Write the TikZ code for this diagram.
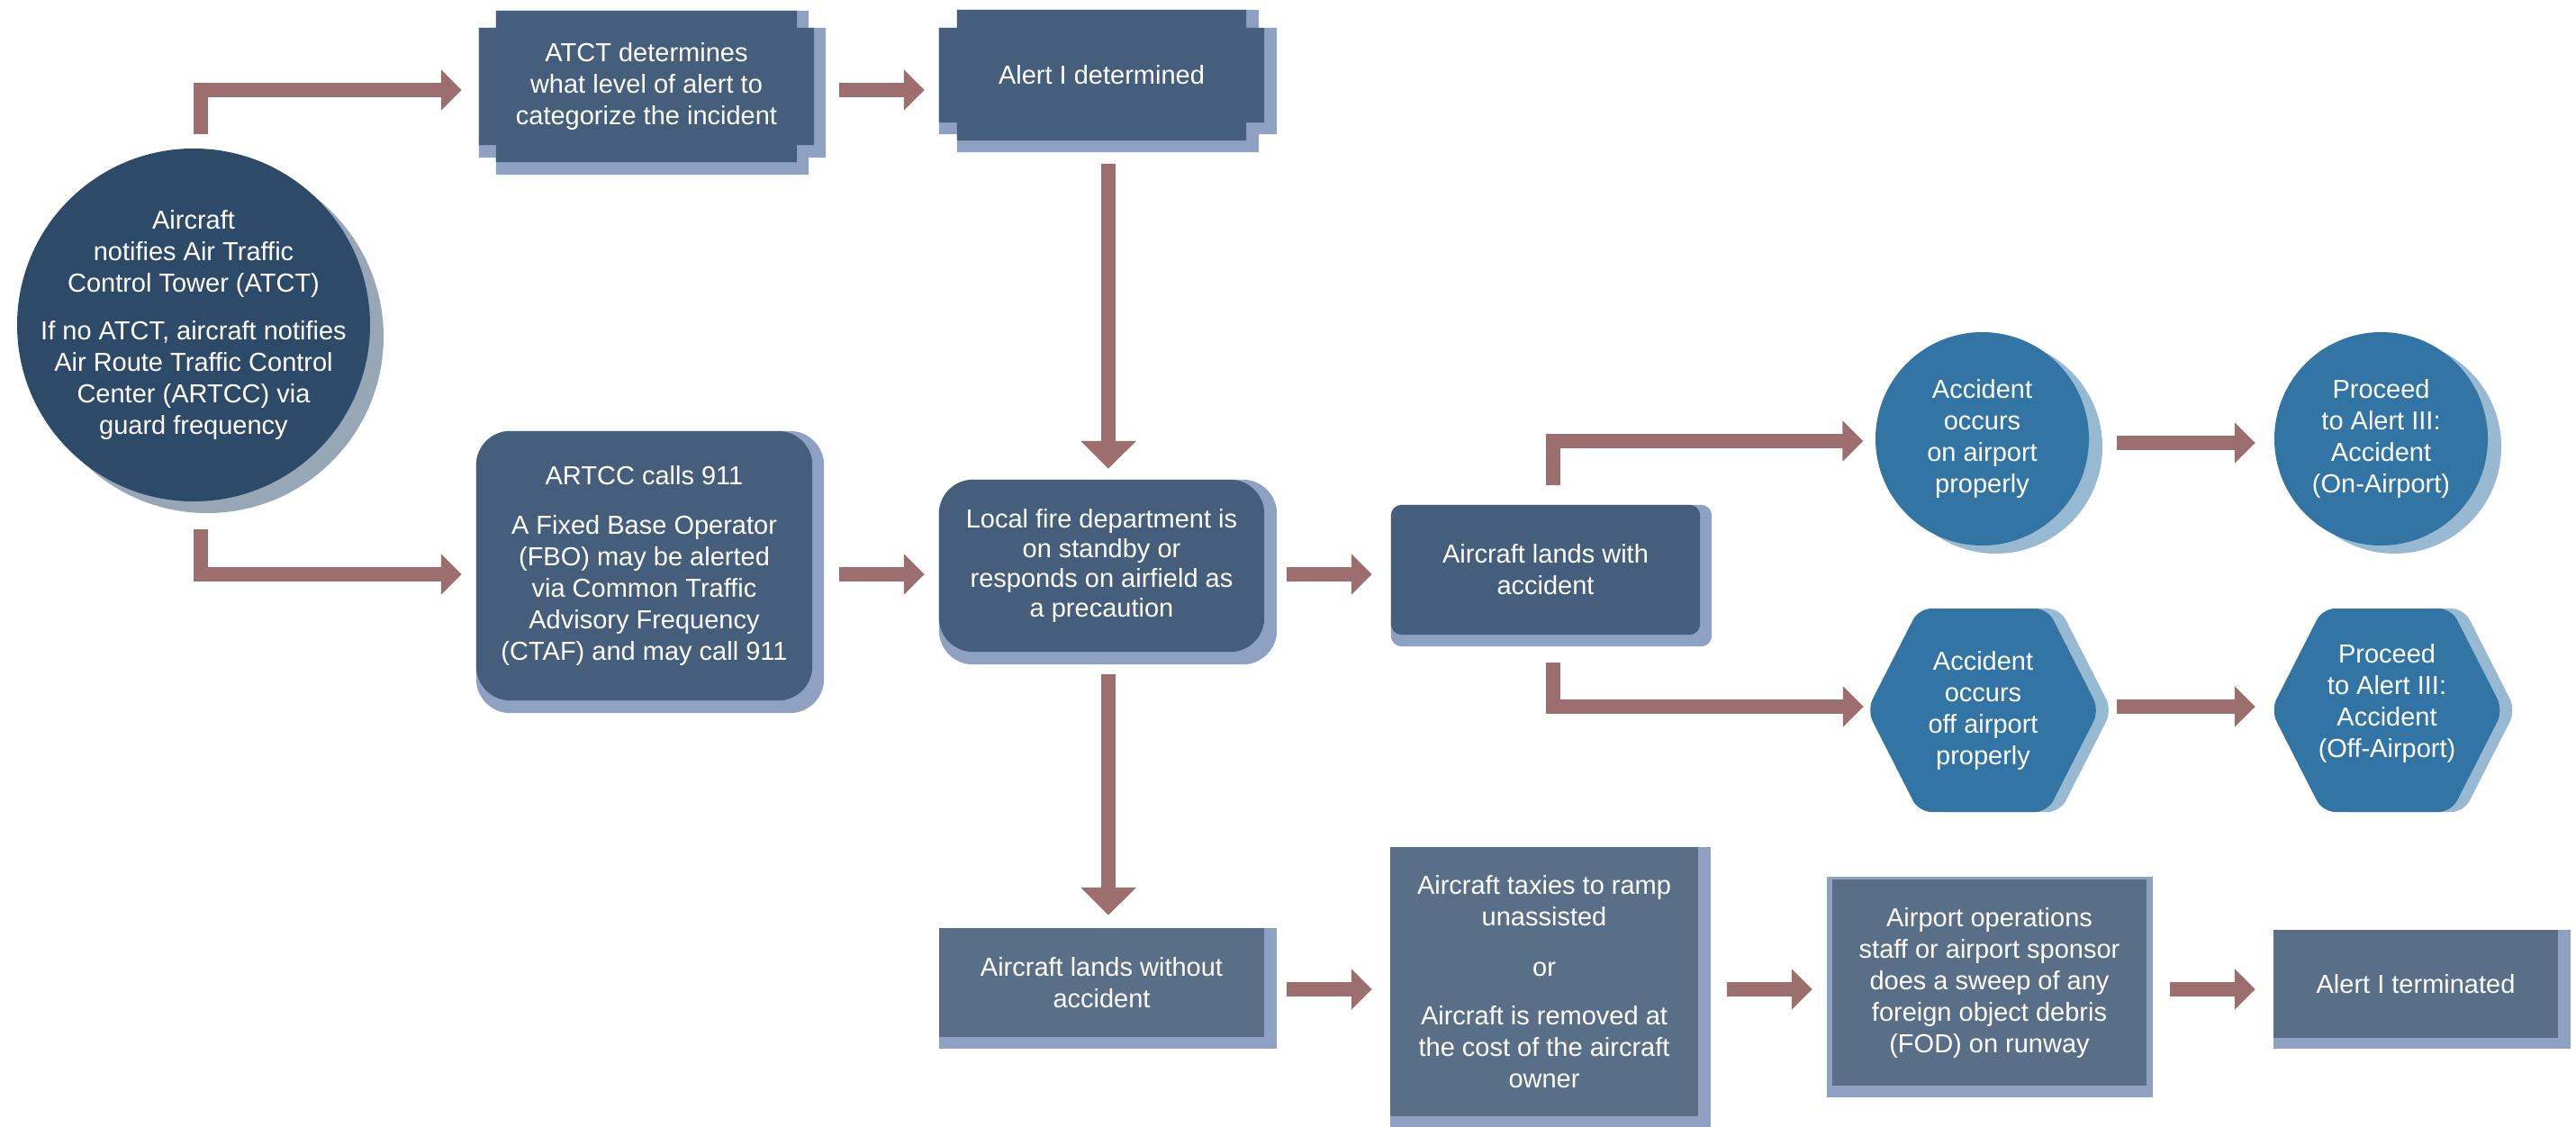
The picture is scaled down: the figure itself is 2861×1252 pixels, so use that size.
\documentclass[tikz,border=0pt]{standalone}
\usepackage{fontspec}
\setmainfont{Liberation Sans}
\usetikzlibrary{arrows.meta,calc}
\definecolor{navy}{HTML}{2E4A69}
\definecolor{navysh}{HTML}{97A7B6}
\definecolor{boxc}{HTML}{445E7B}
\definecolor{boxsh}{HTML}{8EA1C2}
\definecolor{lowc}{HTML}{596E87}
\definecolor{bluec}{HTML}{3274A4}
\definecolor{bluesh}{HTML}{98B9D2}
\definecolor{arrc}{HTML}{9C6E6E}
\pgfdeclarelayer{bg}
\pgfsetlayers{bg,main}
\newcommand\shrect[5]{%
  \fill[#2] (#1.north west) rectangle ([shift={(#4pt,-#5pt)}]#1.south east);
  \fill[#3] (#1.north west) rectangle (#1.south east);}
\newcommand\shround[6]{%
  \fill[#2,rounded corners=#6pt] (#1.north west) rectangle ([shift={(#4pt,-#5pt)}]#1.south east);
  \fill[#3,rounded corners=#6pt] (#1.north west) rectangle (#1.south east);}
\newcommand\plaque[4]{%
  \fill[#1] let \p1=#2, \p2=#3 in
   (\x1+#4,\y1) -- (\x2-#4,\y1) -- (\x2-#4,\y1-#4) -- (\x2,\y1-#4) --
   (\x2,\y2+#4) -- (\x2-#4,\y2+#4) -- (\x2-#4,\y2) -- (\x1+#4,\y2) --
   (\x1+#4,\y2+#4) -- (\x1,\y2+#4) -- (\x1,\y1-#4) -- (\x1+#4,\y1-#4) -- cycle;}
\newcommand\hexa[2]{%
  \fill[#1,rounded corners=14pt] let \p1=#2 in
   (\x1-129pt,\y1) -- (\x1-71.5pt,\y1+113pt) -- (\x1+71.5pt,\y1+113pt) --
   (\x1+129pt,\y1) -- (\x1+71.5pt,\y1-113pt) -- (\x1-71.5pt,\y1-113pt) -- cycle;}
\begin{document}
\begin{tikzpicture}[x=1pt,y=-1pt,
  txt/.style={text=white, align=center, font=\fontsize{29pt}{35pt}\selectfont,
    inner sep=0pt, rectangle},
  sz/.style 2 args={minimum width=#1pt, minimum height=#2pt},
  conn/.style={draw=arrc, line width=16pt, line join=miter,
    -{Triangle[length=23pt,width=44pt]}},
  vconn/.style={draw=arrc, line width=16pt,
    -{Triangle[length=31pt,width=60pt]}}]
\useasboundingbox (0,0) rectangle (2861,1252);

% nodes
\node[txt, sz={392}{392}] (c1) at (215,361)
  {Aircraft\\notifies Air Traffic\\Control Tower (ATCT)\\[18pt]If no ATCT, aircraft notifies\\Air Route Traffic Control\\Center (ARTCC) via\\guard frequency};
\node[txt, sz={372}{168}] (atct) at (718,96)
  {ATCT determines\\what level of alert to\\categorize the incident};
\node[txt, sz={361}{145}] (alert1) at (1223.5,83.5) {Alert I determined};
\node[txt, sz={373}{299}] (artcc) at (715.5,628.5)
  {ARTCC calls 911\\[20pt]A Fixed Base Operator\\(FBO) may be alerted\\via Common Traffic\\Advisory Frequency\\(CTAF) and may call 911};
\node[txt, sz={361}{191}, font=\fontsize{29pt}{33pt}\selectfont] (fire) at (1223.5,628.5)
  {Local fire department is\\on standby or\\responds on airfield as\\a precaution};
\node[txt, sz={343}{144}] (landacc) at (1716.5,633) {Aircraft lands with\\accident};
\node[txt, sz={237}{237}] (accOn) at (2201.5,487.5) {Accident\\occurs\\on airport\\properly};
\node[txt, sz={237}{237}] (procOn) at (2644.5,487.5) {Proceed\\to Alert III:\\Accident\\(On-Airport)};
\node[txt, sz={251}{226}] (accOff) at (2202.5,789) {Accident\\occurs\\off airport\\properly};
\node[txt, sz={250}{226}] (procOff) at (2651,789) {Proceed\\to Alert III:\\Accident\\(Off-Airport)\\[-13pt]\mbox{}};
\node[txt, sz={361}{121}] (landnoacc) at (1223.5,1091.5) {Aircraft lands without\\accident};
\node[txt, sz={342}{299}] (taxi) at (1715,1090.5)
  {Aircraft taxies to ramp\\unassisted\\[21pt]or\\[19pt]Aircraft is removed at\\the cost of the aircraft\\owner};
\node[txt, sz={349}{229}] (fod) at (2209.5,1091.5)
  {Airport operations\\staff or airport sponsor\\does a sweep of any\\foreign object debris\\(FOD) on runway};
\node[txt, sz={316}{120}] (aterm) at (2683,1093) {Alert I terminated};

% shapes
\begin{pgfonlayer}{bg}
\fill[white] (0,0) rectangle (2861,1252);
\fill[navysh] ([shift={(15pt,-13pt)}]c1.center) circle[radius=196pt];
\fill[navy] (c1.center) circle[radius=196pt];
\plaque{boxsh}{(atct.north west)}{([shift={(13pt,-14pt)}]atct.south east)}{19pt}
\plaque{boxc}{(atct.north west)}{(atct.south east)}{19pt}
\plaque{boxsh}{(alert1.north west)}{([shift={(14pt,-13pt)}]alert1.south east)}{20pt}
\plaque{boxc}{(alert1.north west)}{(alert1.south east)}{20pt}
\shround{artcc}{boxsh}{boxc}{13}{14}{38}
\shround{fire}{boxsh}{boxc}{14}{14}{38}
\shround{landacc}{boxsh}{boxc}{13}{13}{12}
\fill[bluesh] ([shift={(15pt,-9pt)}]accOn.center) circle[radius=118.5pt];
\fill[bluec] (accOn.center) circle[radius=118.5pt];
\fill[bluesh] ([shift={(15pt,-9pt)}]procOn.center) circle[radius=118.5pt];
\fill[bluec] (procOn.center) circle[radius=118.5pt];
\hexa{bluesh}{([xshift=14pt]accOff.center)}
\hexa{bluec}{(accOff.center)}
\hexa{bluesh}{([xshift=14pt]procOff.center)}
\hexa{bluec}{(procOff.center)}
\shrect{landnoacc}{boxsh}{lowc}{14}{13}
\shrect{taxi}{boxsh}{lowc}{14}{12}
\fill[boxsh] ([shift={(-6pt,3pt)}]fod.north west) rectangle ([shift={(7pt,-13pt)}]fod.south east);
\fill[lowc] (fod.north west) rectangle (fod.south east);
\shrect{aterm}{boxsh}{lowc}{14}{12}
\end{pgfonlayer}

% connectors
\draw[conn] ([shift={(8pt,16pt)}]c1.north) |- ([shift={(-19pt,-4pt)}]atct.west);
\draw[conn] ([shift={(8pt,-31pt)}]c1.south) |- ([shift={(-16pt,-9.5pt)}]artcc.west);
\draw[conn] ([shift={(28pt,-4pt)}]atct.east) -- ([shift={(-16pt,-16.5pt)}]alert1.west);
\draw[vconn] ([shift={(7.5pt,-26pt)}]alert1.south) -- ([shift={(7.5pt,12pt)}]fire.north);
\draw[conn] ([shift={(30pt,-9.5pt)}]artcc.east) -- ([shift={(-16pt,-9.5pt)}]fire.west);
\draw[conn] ([shift={(25pt,-9.5pt)}]fire.east) -- ([shift={(-21pt,-5pt)}]landacc.west);
\draw[conn] ([shift={(8.5pt,22pt)}]landacc.north) |- ([shift={(-13.5pt,-2.5pt)}]accOn.west);
\draw[conn] ([shift={(8.5pt,-31pt)}]landacc.south) |- ([shift={(-7pt,4pt)}]accOff.west);
\draw[conn] ([shift={(31pt,-4.5pt)}]accOn.east) -- ([shift={(-21pt,-4.5pt)}]procOn.west);
\draw[conn] ([shift={(23pt,4pt)}]accOff.east) -- ([shift={(-21pt,4pt)}]procOff.west);
\draw[vconn] ([shift={(7.5pt,-25pt)}]fire.south) -- ([shift={(7.5pt,14pt)}]landnoacc.north);
\draw[conn] ([shift={(25pt,-7.5pt)}]landnoacc.east) -- ([shift={(-20pt,-8.5pt)}]taxi.west);
\draw[conn] ([shift={(32pt,-8.5pt)}]taxi.east) -- ([shift={(-22pt,-7.5pt)}]fod.west);
\draw[conn] ([shift={(26pt,-7.5pt)}]fod.east) -- ([shift={(-20pt,-6pt)}]aterm.west);
\end{tikzpicture}
\end{document}
